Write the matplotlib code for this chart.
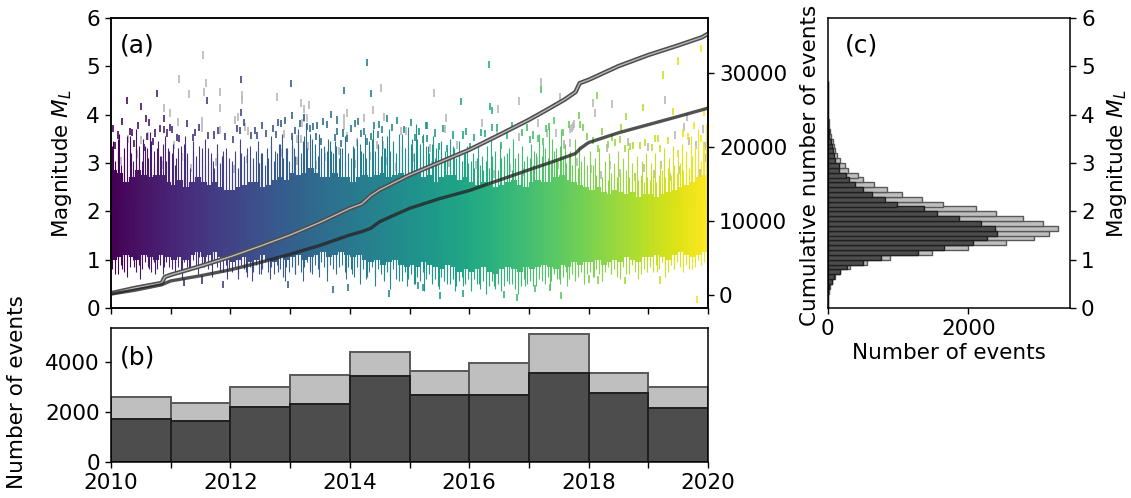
#!/usr/bin/env python
# -*- coding: utf-8 -*-

import numpy as np
import matplotlib
matplotlib.use("Agg")
import matplotlib.pyplot as plt

# === Cumulative curves
all_t = [2010, 2010.4, 2010.85, 2010.9, 2011, 2011.5, 2012, 2012.5, 2013, 2013.5, 2014, 2014.2, 2014.35, 2014.5,
         2015, 2015.5, 2016, 2016.5, 2017, 2017.3, 2017.6, 2017.78, 2017.85, 2018, 2018.5, 2019, 2019.5, 2019.9, 2020]
all_n = [230, 950, 1620, 2420, 2720, 3900, 5170, 6600, 8100, 9800, 11700, 12300, 13400, 14200,
         16200, 17900, 19600, 21600, 23650, 25000, 26400, 27400, 28600, 29050, 30900, 32400, 33700, 34800, 35270]
sel_t = [2010, 2010.4, 2010.85, 2010.9, 2011, 2011.5, 2012, 2012.5, 2013, 2013.5, 2014, 2014.2, 2014.35, 2014.5,
         2015, 2015.5, 2016, 2016.5, 2017, 2017.4, 2017.78, 2017.85, 2017.95, 2018, 2018.5, 2019, 2019.5, 2020]
sel_n = [130, 640, 1380, 1560, 1900, 2600, 3400, 4400, 5500, 6700, 8100, 8550, 9000, 9900,
         11700, 13000, 14100, 15500, 16900, 18000, 19100, 19700, 20300, 20580, 21900, 23000, 24100, 25230]

# === Yearly counts (b)
year_edges = list(range(2010, 2021))
year_all = [2600, 2370, 3020, 3470, 4420, 3650, 3980, 5120, 3550, 3000]
year_sel = [1700, 1650, 2180, 2330, 3450, 2680, 2680, 3560, 2780, 2150]

# === Magnitude histogram (c), bins of 0.1 from 0.0
mag_all = [1, 3, 7, 16, 30, 60, 105, 180, 320, 565, 894, 1491, 1993, 2533, 2930, 3150, 3274, 3064, 2772, 2400,
           2113, 1640, 1348, 1061, 841, 655, 502, 435, 292, 244, 172, 134, 100, 86, 72, 52, 38, 28, 20, 14,
           10, 7, 5, 4, 3, 2, 2]
mag_sel = [1, 2, 6, 14, 24, 57, 86, 177, 277, 502, 765, 1286, 1663, 2075, 2270, 2414, 2380, 2180, 1874, 1558,
           1372, 990, 813, 636, 507, 392, 311, 263, 167, 158, 105, 96, 72, 57, 52, 24, 18, 14, 10, 7,
           5, 4, 3, 2, 2, 1, 1]

# === Dense part of the cloud: solid range per 0.1 yr
solid_hi = [2.85, 2.8, 2.6, 2.7, 2.85, 2.75, 2.7, 2.75, 2.75, 2.6,
            2.55, 2.65, 2.5, 2.6, 2.7, 2.6, 2.55, 2.6, 2.5, 2.45,
            2.45, 2.5, 2.55, 2.6, 2.6, 2.5, 2.55, 2.65, 2.7, 2.65,
            2.8, 2.75, 2.8, 2.9, 2.8, 2.7, 2.7, 2.8, 2.7, 2.7,
            2.6, 2.7, 2.75, 2.7, 2.75, 2.8, 2.7, 2.75, 2.8, 2.75,
            2.8, 2.85, 2.7, 2.75, 2.6, 2.7, 2.75, 2.75, 2.65, 2.7,
            2.6, 2.55, 2.6, 2.55, 2.5, 2.55, 2.6, 2.65, 2.55, 2.5,
            2.6, 2.65, 2.6, 2.6, 2.7, 2.75, 2.65, 2.6, 2.55, 2.5,
            2.45, 2.5, 2.4, 2.35, 2.45, 2.4, 2.35, 2.4, 2.3, 2.35,
            2.35, 2.3, 2.35, 2.4, 2.45, 2.5, 2.55, 2.6, 2.7, 2.75]
solid_lo = [1.0, 1.05, 1.1, 1.05, 1.0, 1.1, 1.05, 1.0, 1.1, 1.05,
            1.0, 1.05, 1.0, 1.1, 1.15, 1.05, 1.1, 1.15, 1.05, 1.0,
            0.95, 1.0, 1.05, 0.95, 1.0, 1.1, 1.0, 0.95, 1.05, 1.0,
            1.05, 1.1, 1.0, 1.05, 1.1, 1.15, 1.05, 1.1, 1.15, 1.1,
            1.05, 1.1, 1.0, 0.95, 1.0, 0.9, 0.95, 1.0, 0.9, 0.85,
            0.9, 0.85, 0.95, 0.9, 0.85, 0.8, 0.9, 0.85, 0.75, 0.8,
            0.75, 0.8, 0.85, 0.75, 0.7, 0.8, 0.85, 0.8, 0.75, 0.85,
            0.8, 0.85, 0.9, 0.85, 0.8, 0.9, 0.85, 0.95, 0.9, 0.95,
            0.95, 1.0, 0.9, 0.95, 1.0, 0.95, 1.05, 1.0, 0.95, 1.05,
            1.05, 1.1, 1.05, 1.0, 1.1, 1.15, 1.1, 1.05, 1.1, 1.15]

# === Frayed edge of the cloud per 0.05 yr
fringe_hi = [3.35, 3.05, 3.5, 2.95, 3.15, 3.55, 3.25, 3.05, 3.4, 3.2, 3.05, 3.35, 3.1, 3.45, 3.0, 3.3, 3.15, 3.4, 3.05, 3.25,
             3.2, 2.95, 3.3, 3.05, 3.4, 3.1, 2.9, 3.25, 3.0, 3.35, 3.15, 2.95, 3.3, 3.1, 2.9, 3.2, 3.0, 3.25, 2.85, 3.1,
             2.95, 3.15, 2.9, 3.2, 3.05, 3.3, 3.1, 2.95, 3.25, 3.0, 3.2, 2.95, 3.1, 3.35, 3.05, 3.2, 3.4, 3.1, 3.3, 3.05,
             3.35, 3.15, 3.45, 3.2, 3.55, 3.3, 3.6, 3.25, 3.4, 3.15, 3.3, 3.05, 3.25, 3.45, 3.2, 3.35, 3.1, 3.3, 3.05, 3.2,
             3.1, 3.3, 3.15, 3.4, 3.2, 3.1, 3.35, 3.5, 3.25, 3.4, 3.15, 3.3, 3.55, 3.25, 3.4, 3.2, 3.35, 3.6, 3.3, 3.15,
             3.4, 3.2, 3.5, 3.3, 3.15, 3.35, 3.2, 3.4, 3.1, 3.3, 3.2, 3.05, 3.3, 3.15, 3.35, 3.1, 3.25, 3.05, 3.2, 3.0,
             3.05, 2.9, 3.1, 2.95, 2.85, 3.05, 2.9, 3.15, 3.0, 2.85, 3.1, 2.95, 3.2, 3.0, 2.85, 3.1, 2.95, 2.8, 3.05, 2.9,
             3.1, 2.95, 3.2, 3.05, 3.15, 3.3, 3.1, 3.0, 3.25, 3.05, 3.35, 3.15, 3.0, 3.2, 2.95, 3.1, 2.9, 3.05, 2.85, 2.95,
             2.8, 2.95, 2.75, 2.9, 2.7, 2.85, 2.65, 2.8, 2.9, 2.7, 2.8, 2.65, 2.85, 2.7, 2.6, 2.8, 2.65, 2.75, 2.6, 2.7,
             2.65, 2.8, 2.6, 2.75, 2.85, 2.7, 2.9, 2.75, 2.95, 2.8, 3.0, 2.85, 3.05, 2.9, 3.15, 2.95, 3.3, 3.05, 3.35, 3.15]
fringe_lo = [0.8, 0.95, 0.7, 0.9, 0.75, 0.95, 0.85, 1.0, 0.75, 0.9, 0.8, 0.95, 0.85, 0.75, 0.95, 0.8, 0.9, 0.7, 0.95, 0.85,
             0.8, 0.9, 0.85, 0.75, 0.95, 0.85, 0.8, 1.0, 0.9, 1.05, 0.85, 0.95, 0.8, 0.9, 1.0, 0.85, 0.95, 0.75, 0.9, 0.8,
             0.75, 0.85, 0.7, 0.9, 0.8, 0.65, 0.85, 0.75, 0.9, 0.7, 0.8, 0.95, 0.75, 0.85, 0.7, 0.9, 0.8, 0.65, 0.85, 0.75,
             0.85, 0.7, 0.9, 0.75, 0.85, 0.95, 0.8, 0.7, 0.9, 0.8, 0.95, 0.85, 0.75, 0.9, 0.8, 1.0, 0.85, 0.9, 0.75, 0.85,
             0.8, 0.65, 0.85, 0.7, 0.8, 0.6, 0.75, 0.85, 0.65, 0.8, 0.7, 0.55, 0.75, 0.65, 0.8, 0.6, 0.7, 0.55, 0.75, 0.6,
             0.7, 0.5, 0.65, 0.55, 0.75, 0.6, 0.7, 0.5, 0.6, 0.45, 0.65, 0.55, 0.7, 0.5, 0.6, 0.45, 0.55, 0.65, 0.5, 0.6,
             0.45, 0.6, 0.5, 0.4, 0.55, 0.65, 0.45, 0.55, 0.4, 0.5, 0.6, 0.45, 0.55, 0.65, 0.5, 0.4, 0.55, 0.45, 0.6, 0.5,
             0.55, 0.65, 0.45, 0.6, 0.7, 0.5, 0.65, 0.55, 0.7, 0.6, 0.5, 0.65, 0.75, 0.6, 0.7, 0.55, 0.65, 0.75, 0.6, 0.7,
             0.75, 0.65, 0.8, 0.7, 0.6, 0.75, 0.85, 0.7, 0.8, 0.65, 0.75, 0.85, 0.7, 0.8, 0.9, 0.75, 0.85, 0.7, 0.8, 0.9,
             0.85, 0.75, 0.9, 0.8, 0.95, 0.85, 0.75, 0.9, 0.8, 0.95, 0.85, 1.0, 0.9, 0.8, 0.95, 0.85, 1.0, 0.9, 0.95, 0.85]

# === Longer streaks above the cloud
up_t = [2010.03, 2010.11, 2010.14, 2010.22, 2010.31, 2010.34, 2010.42, 2010.47, 2010.53, 2010.61, 2010.66, 2010.72, 2010.79, 2010.83, 2010.91, 2010.96,
        2011.04, 2011.09, 2011.17, 2011.24, 2011.28, 2011.37, 2011.43, 2011.52, 2011.58, 2011.67, 2011.71, 2011.78, 2011.86, 2011.93,
        2012.02, 2012.08, 2012.16, 2012.23, 2012.33, 2012.38, 2012.46, 2012.51, 2012.62, 2012.68, 2012.74, 2012.81, 2012.87, 2012.94,
        2013.03, 2013.07, 2013.13, 2013.21, 2013.27, 2013.36, 2013.41, 2013.48, 2013.56, 2013.63, 2013.69, 2013.76, 2013.84, 2013.92,
        2014.05, 2014.12, 2014.19, 2014.26, 2014.32, 2014.39, 2014.47, 2014.54, 2014.59, 2014.66, 2014.73, 2014.82, 2014.88, 2014.97,
        2015.04, 2015.11, 2015.18, 2015.23, 2015.31, 2015.39, 2015.44, 2015.52, 2015.60, 2015.68, 2015.75, 2015.83, 2015.91, 2015.97,
        2016.06, 2016.14, 2016.22, 2016.29, 2016.37, 2016.43, 2016.51, 2016.59, 2016.67, 2016.74, 2016.82, 2016.89, 2016.96,
        2017.03, 2017.09, 2017.17, 2017.24, 2017.33, 2017.38, 2017.46, 2017.53, 2017.61, 2017.69, 2017.77, 2017.84, 2017.93,
        2018.02, 2018.11, 2018.18, 2018.27, 2018.34, 2018.42, 2018.49, 2018.57, 2018.66, 2018.73, 2018.81, 2018.89, 2018.96,
        2019.04, 2019.12, 2019.19, 2019.27, 2019.34, 2019.41, 2019.49, 2019.56, 2019.63, 2019.71, 2019.78, 2019.84, 2019.91, 2019.97]
up_m = [3.45, 3.25, 3.6, 3.3, 3.55, 3.2, 3.7, 3.35, 3.5, 3.3, 3.65, 3.25, 3.45, 3.15, 3.55, 3.3,
        3.4, 3.1, 3.35, 3.55, 3.2, 3.45, 3.15, 3.3, 3.5, 3.2, 3.05, 3.4, 3.15, 3.3,
        3.05, 3.25, 3.5, 3.15, 3.35, 3.1, 3.45, 3.2, 3.3, 3.55, 3.25, 3.4, 3.6, 3.3,
        3.55, 3.3, 3.7, 3.45, 3.8, 3.5, 3.25, 3.6, 3.35, 3.5, 3.25, 3.45, 3.3, 3.55,
        3.35, 3.5, 3.25, 3.6, 3.45, 3.7, 3.35, 3.55, 3.3, 3.7, 3.45, 3.6, 3.35, 3.75,
        3.5, 3.8, 3.4, 3.6, 3.35, 3.55, 3.3, 3.45, 3.25, 3.5, 3.3, 3.45, 3.2, 3.35,
        3.2, 3.4, 3.15, 3.35, 3.55, 3.25, 3.4, 3.15, 3.3, 3.5, 3.2, 3.35, 3.15,
        3.4, 3.25, 3.6, 3.4, 3.75, 3.5, 3.3, 3.7, 3.4, 3.25, 3.5, 3.35, 3.15,
        3.25, 3.1, 3.3, 3.05, 3.2, 3.0, 3.25, 3.1, 3.3, 3.0, 3.15, 3.05, 3.2,
        3.0, 3.2, 3.05, 3.3, 3.1, 3.35, 3.15, 3.4, 3.25, 3.55, 3.35, 3.7, 3.45, 3.8]

# === Longer streaks below the cloud
down_t = [2010.06, 2010.18, 2010.27, 2010.39, 2010.49, 2010.63, 2010.74, 2010.88,
          2011.07, 2011.19, 2011.31, 2011.45, 2011.56, 2011.69, 2011.82, 2011.95,
          2012.12, 2012.26, 2012.37, 2012.52, 2012.66, 2012.79, 2012.91,
          2013.08, 2013.21, 2013.34, 2013.48, 2013.61, 2013.77, 2013.93,
          2014.04, 2014.17, 2014.29, 2014.42, 2014.57, 2014.68, 2014.83, 2014.96,
          2015.10, 2015.24, 2015.38, 2015.49, 2015.62, 2015.76, 2015.89,
          2016.03, 2016.16, 2016.28, 2016.41, 2016.54, 2016.67, 2016.81, 2016.94,
          2017.07, 2017.22, 2017.36, 2017.51, 2017.64, 2017.78, 2017.92,
          2018.09, 2018.23, 2018.37, 2018.52, 2018.68, 2018.83, 2018.97,
          2019.14, 2019.28, 2019.43, 2019.58, 2019.74, 2019.89]
down_m = [0.7, 0.8, 0.65, 0.85, 0.6, 0.8, 0.7, 0.85,
          0.75, 0.6, 0.8, 0.7, 0.85, 0.65, 0.75, 0.6,
          0.6, 0.75, 0.55, 0.7, 0.6, 0.75, 0.55,
          0.7, 0.55, 0.75, 0.65, 0.55, 0.7, 0.6,
          0.7, 0.5, 0.65, 0.45, 0.6, 0.4, 0.55, 0.45,
          0.5, 0.35, 0.55, 0.4, 0.5, 0.35, 0.45,
          0.35, 0.5, 0.3, 0.45, 0.35, 0.5, 0.3, 0.45,
          0.45, 0.55, 0.4, 0.6, 0.45, 0.6, 0.5,
          0.65, 0.55, 0.7, 0.6, 0.7, 0.6, 0.75,
          0.75, 0.65, 0.8, 0.75, 0.8, 0.9]

# === Single events that can be told apart
col_t = [2010.27, 2010.51, 2010.77, 2010.58, 2010.89, 2010.99, 2010.89, 2010.36, 2010.73, 2010.60, 2010.39, 2010.70,
         2010.55, 2010.07, 2011.14, 2012.17, 2011.60, 2012.18, 2012.16, 2011.63, 2011.37, 2012.44,
         2014.28, 2013.01, 2013.91, 2014.35, 2013.03, 2013.69, 2013.79, 2012.80, 2012.84, 2013.28, 2013.45, 2013.39,
         2014.09, 2014.49, 2013.79, 2014.54, 2014.18, 2014.47, 2013.75, 2013.43, 2013.03, 2014.36, 2015.09, 2015.22,
         2013.52, 2013.85, 2013.96, 2014.28,
         2016.33, 2015.87, 2016.35, 2016.38, 2017.21, 2015.30, 2015.29, 2016.38, 2016.19, 2015.89, 2015.49, 2015.62,
         2016.02, 2016.97, 2016.71, 2017.34, 2016.54, 2017.02, 2017.16, 2017.24, 2017.84, 2017.86,
         2018.14, 2018.63, 2018.91, 2018.55, 2018.22, 2019.25, 2019.49, 2019.88, 2019.42, 2017.91, 2018.39, 2018.53,
         2019.11, 2019.17, 2019.89, 2018.15, 2018.61, 2018.74, 2018.86, 2019.20, 2019.50,
         2011.88, 2012.96, 2013.72, 2013.97, 2014.65, 2011.22, 2011.53,
         2015.51, 2015.89, 2016.58, 2016.80, 2017.54, 2019.82, 2018.16, 2018.01, 2018.61, 2019.20, 2017.10, 2017.35,
         2015.15, 2015.22,
         2010.04, 2010.12, 2010.19, 2010.31, 2010.45, 2010.64, 2010.82, 2010.94, 2011.03, 2011.11, 2011.27, 2011.41,
         2011.47, 2011.72, 2011.79, 2011.91, 2012.04, 2012.11, 2012.22, 2012.34, 2012.41, 2012.53, 2012.59, 2012.71,
         2012.77, 2012.92, 2013.09, 2013.16, 2013.23, 2013.34, 2013.55, 2013.62, 2013.88, 2014.02, 2014.14, 2014.24,
         2014.41, 2014.62, 2014.71, 2014.79, 2014.91, 2015.03, 2015.16, 2015.27, 2015.42, 2015.56, 2015.73, 2015.94,
         2016.08, 2016.27, 2016.47, 2016.63, 2016.88, 2017.07, 2017.28, 2017.42, 2017.57, 2017.67, 2017.97, 2018.08,
         2018.32, 2018.45, 2018.70, 2018.95, 2019.07, 2019.33, 2019.58, 2019.66, 2019.76, 2019.93]
col_m = [4.29, 4.17, 4.43, 3.93, 3.93, 3.74, 3.70, 3.64, 3.62, 3.54, 3.41, 3.45,
         3.33, 3.37, 3.50, 4.72, 4.29, 4.05, 3.68, 3.56, 3.52, 3.56,
         5.08, 4.65, 4.50, 4.43, 3.98, 4.01, 3.89, 3.84, 3.81, 3.75, 3.77, 3.75,
         3.82, 3.79, 3.66, 3.70, 3.61, 3.59, 3.53, 3.54, 3.54, 3.54, 3.53, 3.48,
         3.44, 3.41, 3.51, 3.44,
         5.04, 4.27, 4.17, 4.08, 4.52, 3.77, 3.51, 3.74, 3.63, 3.58, 3.34, 3.30,
         3.35, 3.74, 3.77, 3.75, 3.37, 3.49, 3.51, 3.44, 3.99, 3.79,
         4.39, 3.96, 4.15, 3.74, 3.66, 4.82, 5.11, 5.37, 4.06, 3.74, 3.53, 3.49,
         3.51, 3.51, 3.51, 3.30, 3.30, 3.37, 3.37, 3.30, 3.20,
         0.49, 0.49, 0.39, 0.43, 0.30, 0.53, 0.58,
         0.25, 0.30, 0.27, 0.22, 0.25, 0.17, 0.58, 0.60, 0.57, 0.58, 0.41, 0.43,
         0.46, 0.43,
         3.72, 3.58, 3.86, 3.66, 3.78, 3.84, 3.71, 3.62, 3.69, 3.52, 3.81, 3.63,
         3.74, 3.58, 3.67, 3.55, 3.49, 3.71, 3.83, 3.57, 3.68, 3.78, 3.61, 3.72,
         3.59, 3.88, 3.67, 3.82, 3.95, 3.72, 3.86, 3.79, 3.62, 3.71, 3.85, 3.66,
         3.78, 3.92, 3.73, 3.88, 3.69, 3.84, 3.66, 3.77, 3.62, 3.71, 3.58, 3.66,
         3.52, 3.61, 3.74, 3.56, 3.63, 3.58, 3.72, 3.88, 3.63, 3.79, 3.55, 3.46,
         3.38, 3.43, 3.35, 3.42, 3.33, 3.47, 3.62, 3.55, 3.78, 4.05]
gray_t = [2011.54, 2011.14, 2011.59, 2011.30, 2011.55, 2011.82, 2012.19, 2012.19, 2011.82, 2010.88, 2010.98, 2011.13,
          2011.53, 2011.53, 2011.82, 2012.07, 2012.13, 2012.24, 2012.30, 2010.28, 2010.51, 2010.62, 2011.06,
          2012.78, 2013.18, 2013.31, 2013.24, 2014.53, 2013.96, 2014.39, 2013.91, 2014.23, 2014.58, 2013.24, 2013.28,
          2013.20, 2013.91, 2014.86, 2014.94, 2012.89, 2013.11, 2013.18, 2013.30, 2013.96, 2014.12, 2014.45, 2014.56,
          2015.41, 2015.61, 2015.59, 2017.20, 2016.83, 2016.49, 2016.22, 2017.52, 2017.16, 2017.45, 2016.83, 2016.46,
          2017.30, 2017.69, 2017.74, 2017.59, 2015.79, 2015.34,
          2018.07, 2018.40, 2019.28, 2018.11, 2019.64, 2019.60, 2019.91, 2017.76, 2017.72, 2017.59, 2017.69, 2018.66,
          2019.45, 2019.68, 2018.30, 2019.80, 2019.95, 2019.00,
          2010.17, 2010.43, 2010.86, 2011.19, 2011.34, 2011.76, 2012.06, 2012.27, 2012.48, 2012.85, 2013.12, 2013.44,
          2013.58, 2013.82, 2014.08, 2014.33, 2014.61, 2014.77, 2015.07, 2015.37, 2015.66, 2015.98, 2016.12, 2016.41,
          2016.69, 2016.92, 2017.14, 2017.49, 2017.81, 2018.04, 2018.21, 2018.36, 2018.52, 2018.78, 2018.93, 2019.09,
          2019.22, 2019.37, 2019.52, 2019.73, 2019.86, 2019.96]
gray_m = [5.23, 4.74, 4.66, 4.43, 4.47, 4.47, 4.41, 4.30, 4.13, 4.13, 4.03, 3.84,
          3.87, 3.72, 3.68, 3.89, 3.95, 3.75, 3.66, 3.50, 3.47, 3.55, 3.37,
          4.37, 4.24, 4.21, 4.12, 4.55, 4.04, 4.10, 3.93, 3.93, 3.96, 3.93, 3.94,
          3.82, 3.77, 3.66, 3.66, 3.60, 3.50, 3.50, 3.35, 3.55, 3.44, 3.38, 3.38,
          4.44, 3.93, 3.70, 4.68, 4.28, 4.12, 3.83, 4.36, 3.83, 3.63, 3.54, 3.60,
          3.63, 3.70, 3.77, 3.37, 3.37, 3.30,
          4.24, 4.22, 4.30, 4.04, 3.96, 3.74, 3.70, 3.81, 3.72, 3.39, 3.42, 3.44,
          3.58, 3.46, 3.30, 3.37, 3.35, 3.33,
          3.05, 3.18, 2.95, 3.12, 2.9, 3.02, 2.88, 3.08, 2.92, 3.2, 3.05, 2.95,
          3.12, 3.25, 2.98, 3.15, 3.05, 2.92, 3.1, 2.95, 3.0, 2.85, 2.95, 2.78,
          2.9, 2.82, 3.05, 2.95, 3.02, 2.88, 2.75, 2.95, 2.8, 2.72, 2.9, 2.78,
          2.95, 2.7, 2.85, 2.98, 2.8, 3.1]

# === Figure
plt.rcParams["font.size"] = 15.5
plt.rcParams["axes.linewidth"] = 1.1
plt.rcParams["xtick.major.size"] = 4.5
plt.rcParams["ytick.major.size"] = 4.5
plt.rcParams["xtick.major.width"] = 1.0
plt.rcParams["ytick.major.width"] = 1.0
W, H = 1131, 498
fig = plt.figure(figsize=(W / 100, H / 100), dpi=100)


def rect(x0, y0, x1, y1):
    return [x0 / W, 1 - y1 / H, (x1 - x0) / W, (y1 - y0) / H]


ax_a = fig.add_axes(rect(111, 18, 708, 308))
ax_b = fig.add_axes(rect(111, 328, 708, 461.5))
ax_c = fig.add_axes(rect(827.5, 18, 1070, 308))
viridis = plt.get_cmap("viridis")


def year_colors(t):
    return viridis((np.asarray(t) - 2010) / 10)


# === (a) cloud
solid_t = 2010.05 + 0.1 * np.arange(len(solid_hi))
fringe_t = 2010.025 + 0.05 * np.arange(len(fringe_hi))
ax_a.vlines(solid_t, solid_lo, solid_hi, colors=year_colors(solid_t), lw=4.4)
ax_a.vlines(fringe_t, fringe_lo, fringe_hi, colors=year_colors(fringe_t), lw=0.8)
ax_a.vlines(up_t, 2.2, up_m, colors=year_colors(up_t), lw=0.8)
ax_a.vlines(down_t, down_m, 1.4, colors=year_colors(down_t), lw=0.8)
ax_a.scatter(gray_t, gray_m, marker="|", s=26, c="0.72", linewidths=1.2)
ax_a.scatter(col_t, col_m, marker="|", s=26, c=col_t, cmap="viridis", vmin=2010, vmax=2020, linewidths=1.2)
ax_a.set_xlim(2010, 2020)
ax_a.set_ylim(0, 6)
ax_a.set_xticks(year_edges)
ax_a.set_xticklabels([])
ax_a.text(0.015, 0.905, "(a)", transform=ax_a.transAxes, va="center", fontsize=18)

# === cumulative curves on the right axis
ax_r = ax_a.twinx()
ax_r.plot(all_t, all_n, color="0.3", lw=3.2, solid_capstyle="butt")
ax_r.plot(all_t, all_n, color="0.72", lw=1.0, solid_capstyle="butt")
ax_r.plot(sel_t, sel_n, color="0.15", lw=2.4, alpha=0.8, solid_capstyle="butt")
ax_r.set_ylim(-1757, 37400)
ax_r.set_yticks([0, 10000, 20000, 30000])

# === (b) yearly bars
ax_b.bar(year_edges[:-1], year_all, width=1, align="edge", color="0.75", edgecolor="0.35", lw=1.4)
ax_b.bar(year_edges[:-1], year_sel, width=1, align="edge", color="0.3", edgecolor="0.12", lw=1.4)
ax_b.set_xlim(2010, 2020)
ax_b.set_ylim(0, 5380)
ax_b.set_xticks(year_edges)
ax_b.set_xticklabels([str(y) if y % 2 == 0 else "" for y in year_edges])
ax_b.set_yticks([0, 2000, 4000])
ax_b.text(0.015, 0.78, "(b)", transform=ax_b.transAxes, va="center", fontsize=18)

# === (c) magnitude histogram
mag_bins = 0.1 * np.arange(len(mag_all))
ax_c.barh(mag_bins, mag_all, height=0.1, align="edge", color="0.75", edgecolor="0.35", lw=1.0)
ax_c.barh(mag_bins, mag_sel, height=0.1, align="edge", color="0.3", edgecolor="0.12", lw=1.0)
ax_c.set_xlim(0, 3447)
ax_c.set_ylim(0, 6)
ax_c.set_xticks([0, 2000])
ax_c.set_xlabel("Number of events", labelpad=3)
ax_c.yaxis.tick_right()
ax_c.text(0.07, 0.905, "(c)", transform=ax_c.transAxes, va="center", fontsize=18)

# === Axis titles placed by hand
fig.text(62 / W, 1 - 164 / H, "Magnitude $M_L$", rotation=90, ha="center", va="center")
fig.text(17 / W, 1 - 392 / H, "Number of events", rotation=90, ha="center", va="center")
fig.text(810 / W, 1 - 165 / H, "Cumulative number of events", rotation=90, ha="center", va="center")
fig.text(1117 / W, 1 - 164 / H, "Magnitude $M_L$", rotation=90, ha="center", va="center")

fig.savefig("out.png", dpi=100)
